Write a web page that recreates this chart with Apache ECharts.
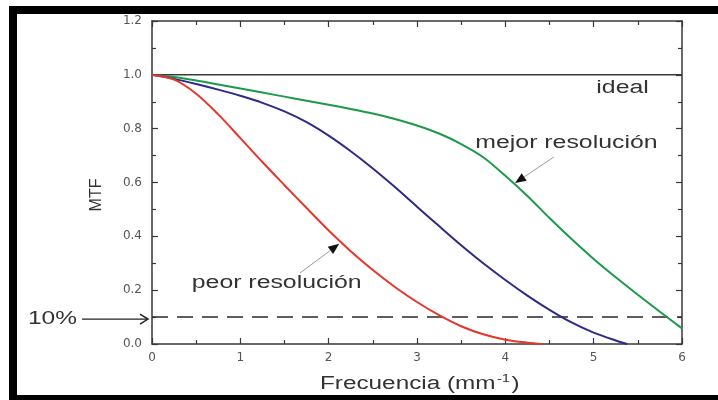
<!DOCTYPE html>
<html>
<head>
<meta charset="utf-8">
<script src="https://cdn.jsdelivr.net/npm/echarts@6/dist/echarts.min.js"></script>
<style>
  html, body { margin: 0; padding: 0; background: #fff; overflow: hidden; }
  #wrap { position: relative; width: 718px; height: 400px; }
  #chart { width: 718px; height: 400px; }
  .bar { position: absolute; background: #000; pointer-events: none; }
</style>
</head>
<body>
<div id="wrap">
  <div id="chart"></div>
  <!-- black frame around the figure -->
  <div class="bar" style="left:9px; top:6px; width:709px; height:8px;"></div>
  <div class="bar" style="left:9px; top:6px; width:8px; height:394px;"></div>
  <div class="bar" style="left:9px; top:395px; width:709px; height:5px;"></div>
</div>
<script>
// MTF curves: spatial frequency (mm^-1) against modulation transfer
const redFreq = [0, 0.25, 0.5, 0.75, 1, 1.25, 1.5, 1.75, 2, 2.25, 2.5, 2.75, 3, 3.25, 3.5, 3.75, 4, 4.25, 4.42];
const redMtf  = [1.0, 0.982, 0.93, 0.853, 0.765, 0.676, 0.59, 0.505, 0.422, 0.345, 0.275, 0.212, 0.156, 0.107, 0.066, 0.036, 0.016, 0.005, 0.0];

const blueFreq = [0, 0.25, 0.5, 0.75, 1, 1.25, 1.5, 1.75, 2, 2.25, 2.5, 2.75, 3, 3.25, 3.5, 3.75, 4, 4.25, 4.5, 4.75, 5, 5.25, 5.38];
const blueMtf  = [1.0, 0.985, 0.966, 0.945, 0.922, 0.896, 0.864, 0.824, 0.774, 0.716, 0.652, 0.583, 0.51, 0.438, 0.367, 0.3, 0.238, 0.18, 0.127, 0.08, 0.042, 0.013, 0.0];

const greenFreq = [0, 0.25, 0.5, 0.75, 1, 1.25, 1.5, 1.75, 2, 2.25, 2.5, 2.75, 3, 3.25, 3.5, 3.75, 4, 4.25, 4.5, 4.75, 5, 5.25, 5.5, 5.75, 6];
const greenMtf  = [1.0, 0.992, 0.979, 0.964, 0.949, 0.934, 0.919, 0.904, 0.889, 0.873, 0.856, 0.836, 0.812, 0.782, 0.743, 0.694, 0.625, 0.55, 0.468, 0.39, 0.316, 0.248, 0.183, 0.12, 0.058];

const idealLevel = 1.0;      // perfect system
const thresholdLevel = 0.1;  // 10 % limiting resolution
const freqRange = [0, 6];
const mtfRange = [0, 1.2];

const pairs = (xs, ys) => xs.map((x, i) => [x, ys[i]]);

const chart = echarts.init(document.getElementById('chart'));

const axisColor = '#383838';
const labelFont = { fontFamily: 'DejaVu Sans', fontSize: 12, color: '#555' };

// every side of the plot box carries an axis line with inward ticks
function frameAxis(extra) {
  return Object.assign({
    type: 'value',
    axisLine: { show: true, onZero: false, lineStyle: { color: axisColor, width: 1.5 } },
    axisTick: { show: true, inside: true, length: 6, lineStyle: { color: axisColor, width: 1.2 } },
    minorTick: { show: true, splitNumber: 2, length: 4, lineStyle: { color: axisColor, width: 1.2 } },
    splitLine: { show: false },
    minorSplitLine: { show: false }
  }, extra);
}

chart.setOption({
  animation: false,
  backgroundColor: '#fff',
  grid: { left: 152, right: 36, top: 21, bottom: 56 },
  xAxis: [
    frameAxis({
      position: 'bottom', min: freqRange[0], max: freqRange[1], interval: 1,
      axisLabel: Object.assign({ margin: 8 }, labelFont)
    }),
    frameAxis({
      position: 'top', min: freqRange[0], max: freqRange[1], interval: 1,
      axisLabel: { show: false }
    })
  ],
  yAxis: [
    frameAxis({
      position: 'left', min: mtfRange[0], max: mtfRange[1], interval: 0.2,
      axisLabel: Object.assign({ margin: 10, formatter: v => v.toFixed(1) }, labelFont)
    }),
    frameAxis({
      position: 'right', min: mtfRange[0], max: mtfRange[1], interval: 0.2,
      axisLabel: { show: false }
    })
  ],
  series: [
    {
      name: 'ideal', type: 'line', showSymbol: false,
      data: [[freqRange[0], idealLevel], [freqRange[1], idealLevel]],
      lineStyle: { color: '#3a3a3a', width: 1.5 }, z: 3
    },
    {
      name: '10%', type: 'line', showSymbol: false,
      data: [[freqRange[0], thresholdLevel], [freqRange[1], thresholdLevel]],
      lineStyle: { color: '#2a2a2a', width: 1.5, type: [16, 9] }, z: 3
    },
    {
      name: 'mejor resolución', type: 'line', showSymbol: false, smooth: 0.3,
      data: pairs(greenFreq, greenMtf),
      lineStyle: { color: '#1c9a4a', width: 2 }, z: 4
    },
    {
      name: 'intermedia', type: 'line', showSymbol: false, smooth: 0.3,
      data: pairs(blueFreq, blueMtf),
      lineStyle: { color: '#2e2a86', width: 2 }, z: 4
    },
    {
      name: 'peor resolución', type: 'line', showSymbol: false, smooth: 0.3,
      data: pairs(redFreq, redMtf),
      lineStyle: { color: '#e5362c', width: 2 }, z: 4
    }
  ]
});

// ---- annotations, placed through the grid's coordinate conversion ----
const toPx = (x, y) => chart.convertToPixel({ gridIndex: 0 }, [x, y]);

function arrow(tail, tip, lineColor, headLen, headHalf) {
  const dx = tip[0] - tail[0], dy = tip[1] - tail[1];
  const len = Math.hypot(dx, dy);
  const ux = dx / len, uy = dy / len;
  const bx = tip[0] - ux * headLen, by = tip[1] - uy * headLen;
  const nx = -uy, ny = ux;
  return [
    { type: 'line', shape: { x1: tail[0], y1: tail[1], x2: bx, y2: by },
      style: { stroke: lineColor, lineWidth: 1 }, z: 10 },
    { type: 'polygon',
      shape: { points: [tip, [bx + nx * headHalf, by + ny * headHalf], [bx - nx * headHalf, by - ny * headHalf]] },
      style: { fill: '#111' }, z: 10 }
  ];
}

function label(text, x, y, extra) {
  return Object.assign({
    type: 'text', x: x, y: y, scaleX: 1.38, z: 10,
    style: { text: text, font: '18px "Liberation Sans", Arial, sans-serif', fill: '#333',
             align: 'left', verticalAlign: 'middle' }
  }, extra || {});
}

const idealPos = toPx(5.03, 0.952);
const mejorPos = toPx(3.66, 0.747);
const peorPos  = toPx(0.45, 0.227);
const threshY  = toPx(0, thresholdLevel)[1];
const axisLeft = toPx(0, 0)[0];

const graphics = [
  label('ideal', idealPos[0], idealPos[1]),
  label('mejor resolución', mejorPos[0], mejorPos[1]),
  label('peor resolución', peorPos[0], peorPos[1]),
  label('10%', 28, threshY + 2, { scaleX: 1.36 }),

  // axis titles
  {
    type: 'text', x: 320, y: 384, scaleX: 1.35, z: 10,
    style: {
      text: '{a|Frecuencia (mm}{b|-1}{a|)}', align: 'left', verticalAlign: 'middle',
      rich: {
        a: { font: '18px "Liberation Sans", Arial, sans-serif', fill: '#333' },
        b: { font: '11px "Liberation Sans", Arial, sans-serif', fill: '#333', verticalAlign: 'top', padding: [0, 1, 10, 1] }
      }
    }
  },
  {
    type: 'text', x: 97, y: 195, rotation: Math.PI / 2, z: 10,
    style: { text: 'MTF', font: '16px "Liberation Sans", Arial, sans-serif', fill: '#333',
             align: 'center', verticalAlign: 'middle' }
  }
];

graphics.push(...arrow(toPx(4.55, 0.695), toPx(4.11, 0.598), '#9a9a9a', 11, 4.5));
graphics.push(...arrow(toPx(1.676, 0.264), toPx(2.12, 0.372), '#9a9a9a', 11, 4.5));
// the 10% pointer outside the plot
graphics.push({ type: 'line', shape: { x1: 82, y1: threshY + 2, x2: axisLeft - 5, y2: threshY + 2 },
                style: { stroke: '#222', lineWidth: 1.2 }, z: 10 });
graphics.push({ type: 'polyline', shape: { points: [[axisLeft - 12, threshY - 3], [axisLeft - 4, threshY + 2], [axisLeft - 12, threshY + 7]] },
                style: { stroke: '#222', lineWidth: 1.5, fill: null }, z: 10 });

chart.setOption({ graphic: graphics });
</script>
</body>
</html>
